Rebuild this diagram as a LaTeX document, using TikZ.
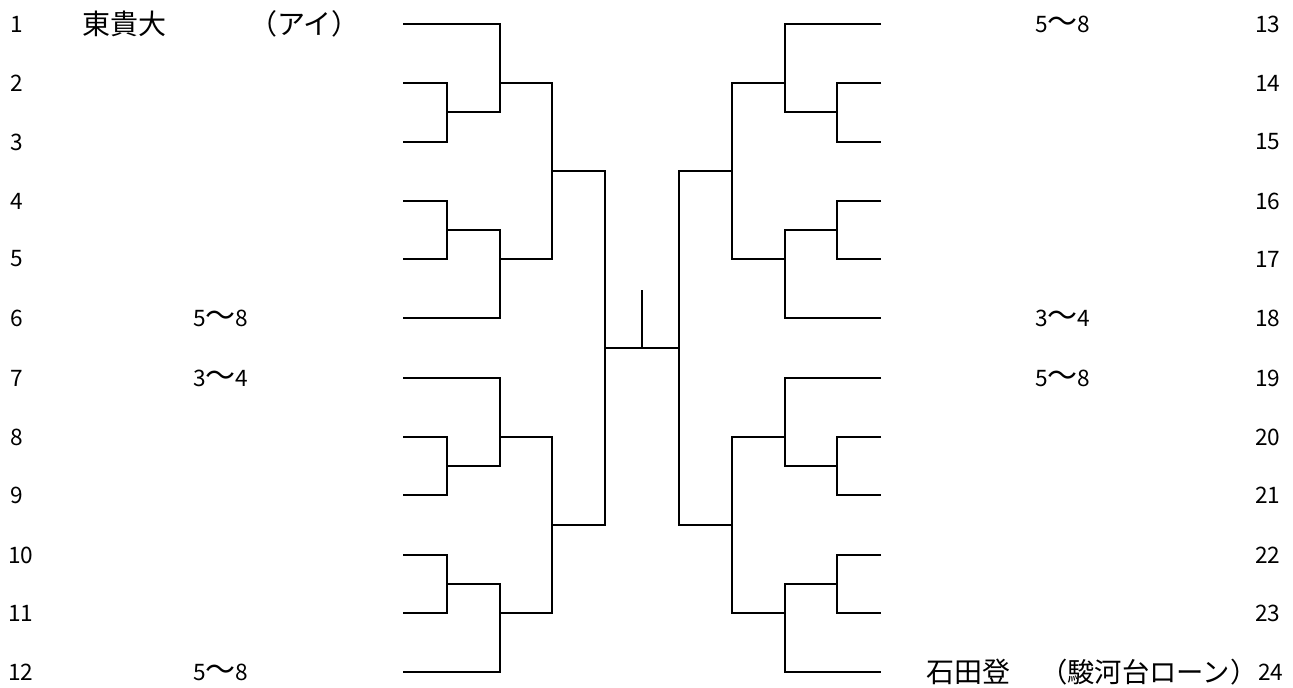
\documentclass[tikz,border=0pt]{standalone}
\usepackage{fontspec}
\newfontfamily\cjk{Noto Sans CJK JP}
\newcommand{\rng}[2]{{\fontsize{17}{18}\selectfont #1}{\fontsize{22.5}{24}\selectfont 〜}{\fontsize{17}{18}\selectfont #2}}
\tikzset{
    seat/.style={anchor=west,inner sep=0pt,font=\cjk\fontsize{17}{18}\selectfont},
    team/.style={anchor=west,inner sep=0pt,font=\cjk\fontsize{21}{24}\selectfont},
    rank/.style={anchor=west,inner sep=0pt,font=\cjk},
    bline/.style={line width=1.5pt}
}
\begin{document}
\begin{tikzpicture}[x=0.75pt,y=0.75pt,yscale=-1,xscale=1]
    \useasboundingbox (0,0) rectangle (1293,688);

    % Seat numbers
    \node[seat] (n1) at (10,24) {1};
    \node[seat] (n2) at (10,83) {2};
    \node[seat] (n3) at (10,142) {3};
    \node[seat] (n4) at (10,201) {4};
    \node[seat] (n5) at (10,259) {5};
    \node[seat] (n6) at (10,318) {6};
    \node[seat] (n7) at (10,378) {7};
    \node[seat] (n8) at (10,437) {8};
    \node[seat] (n9) at (10,495) {9};
    \node[seat] (n10) at (8,555) {10};
    \node[seat] (n11) at (8,613) {11};
    \node[seat] (n12) at (8,672) {12};
    \node[seat] (n13) at (1255,24) {13};
    \node[seat] (n14) at (1255,83) {14};
    \node[seat] (n15) at (1255,142) {15};
    \node[seat] (n16) at (1255,201) {16};
    \node[seat] (n17) at (1255,259) {17};
    \node[seat] (n18) at (1255,318) {18};
    \node[seat] (n19) at (1255,378) {19};
    \node[seat] (n20) at (1255,437) {20};
    \node[seat] (n21) at (1255,495) {21};
    \node[seat] (n22) at (1255,555) {22};
    \node[seat] (n23) at (1255,613) {23};
    \node[seat] (n24) at (1258,672) {24};

    % Teams
    \node[team] (toki) at (82,24) {東貴大};
    \node[team] (ai) at (249,24) {（アイ）};
    \node[team] (ishida) at (926,672) {石田登};
    \node[team,font=\cjk\fontsize{20.5}{24}\selectfont] (sundai) at (1040,672) {（駿河台ローン）};

    % Ranks
    \node[rank] (rk6) at (193,318) {\rng{5}{8}};
    \node[rank] (rk7) at (193,378) {\rng{3}{4}};
    \node[rank] (rk12) at (193,672) {\rng{5}{8}};
    \node[rank] (rk13) at (1035,24) {\rng{5}{8}};
    \node[rank] (rk18) at (1035,318) {\rng{3}{4}};
    \node[rank] (rk19) at (1035,378) {\rng{5}{8}};

    % Slots
    \coordinate (s1) at (403,24);   \coordinate (s2) at (403,83);
    \coordinate (s3) at (403,142);  \coordinate (s4) at (403,201);
    \coordinate (s5) at (403,259);  \coordinate (s6) at (403,318);
    \coordinate (s7) at (403,378);  \coordinate (s8) at (403,437);
    \coordinate (s9) at (403,495);  \coordinate (s10) at (403,555);
    \coordinate (s11) at (403,613); \coordinate (s12) at (403,672);
    \coordinate (s13) at (881,24);   \coordinate (s14) at (881,83);
    \coordinate (s15) at (881,142);  \coordinate (s16) at (881,201);
    \coordinate (s17) at (881,259);  \coordinate (s18) at (881,318);
    \coordinate (s19) at (881,378);  \coordinate (s20) at (881,437);
    \coordinate (s21) at (881,495);  \coordinate (s22) at (881,555);
    \coordinate (s23) at (881,613);  \coordinate (s24) at (881,672);

    % Winners, left
    \coordinate (a23) at (447,112);  \coordinate (a45) at (447,230);
    \coordinate (a89) at (447,466);  \coordinate (a1011) at (447,584);
    \coordinate (b1) at (500,83);    \coordinate (b2) at (500,259);
    \coordinate (b3) at (500,437);   \coordinate (b4) at (500,613);
    \coordinate (c1) at (552,171);   \coordinate (c2) at (552,525);
    \coordinate (d1) at (605,348);
    % Winners, right
    \coordinate (a1415) at (837,112);  \coordinate (a1617) at (837,230);
    \coordinate (a2021) at (837,466);  \coordinate (a2223) at (837,584);
    \coordinate (b5) at (785,83);    \coordinate (b6) at (785,259);
    \coordinate (b7) at (785,437);   \coordinate (b8) at (785,613);
    \coordinate (c3) at (732,171);   \coordinate (c4) at (732,525);
    \coordinate (d2) at (679,348);
    \coordinate (top) at (642,290);

    % Left block
    \draw[bline] (s2) -| (a23) |- (s3);
    \draw[bline] (s1) -| (b1) |- (a23);
    \draw[bline] (s4) -| (a45) |- (s5);
    \draw[bline] (a45) -| (b2) |- (s6);
    \draw[bline] (s8) -| (a89) |- (s9);
    \draw[bline] (s7) -| (b3) |- (a89);
    \draw[bline] (s10) -| (a1011) |- (s11);
    \draw[bline] (a1011) -| (b4) |- (s12);
    \draw[bline] (b1) -| (c1) |- (b2);
    \draw[bline] (b3) -| (c2) |- (b4);
    \draw[bline] (c1) -| (d1) |- (c2);
    % Right block
    \draw[bline] (s14) -| (a1415) |- (s15);
    \draw[bline] (s13) -| (b5) |- (a1415);
    \draw[bline] (s16) -| (a1617) |- (s17);
    \draw[bline] (a1617) -| (b6) |- (s18);
    \draw[bline] (s20) -| (a2021) |- (s21);
    \draw[bline] (s19) -| (b7) |- (a2021);
    \draw[bline] (s22) -| (a2223) |- (s23);
    \draw[bline] (a2223) -| (b8) |- (s24);
    \draw[bline] (b5) -| (c3) |- (b6);
    \draw[bline] (b7) -| (c4) |- (b8);
    \draw[bline] (c3) -| (d2) |- (c4);
    % Final
    \draw[bline] (d1) -- (d2);
    \draw[bline] (top) -- (top |- d1);

\end{tikzpicture}
\end{document}
